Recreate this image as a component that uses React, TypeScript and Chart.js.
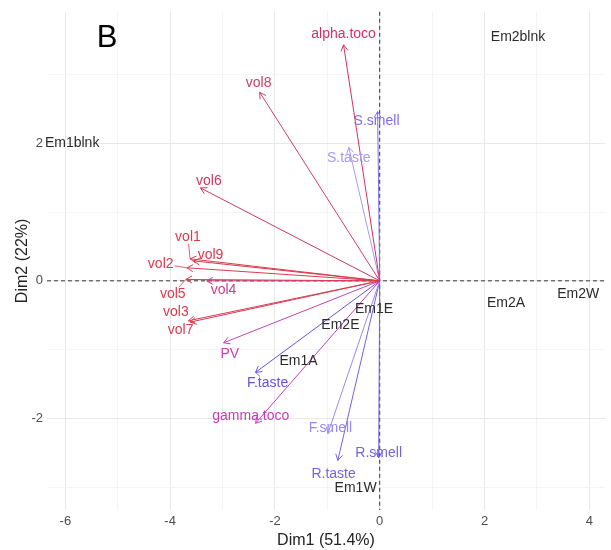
import React, { useEffect, useRef } from 'react';
import { Chart, registerables } from 'chart.js';

Chart.register(...registerables);

const FONT = "'Liberation Sans', Arial, Helvetica, sans-serif";

// Variables (arrows): coordinates on Dim1 / Dim2
const variables = ['alpha.toco', 'vol8', 'S.smell', 'S.taste', 'vol6', 'vol1', 'vol9', 'vol2', 'vol5', 'vol4', 'vol3', 'vol7', 'PV', 'F.taste', 'gamma.toco', 'F.smell', 'R.taste', 'R.smell'];
const varDim1 = [-0.69, -2.29, -0.04, -0.59, -3.42, -3.62, -3.55, -3.68, -3.70, -3.30, -3.65, -3.62, -2.98, -2.37, -2.37, -0.99, -0.80, -0.02];
const varDim2 = [3.43, 2.74, 2.46, 1.94, 1.35, 0.32, 0.29, 0.19, 0.02, 0.00, -0.58, -0.60, -0.90, -1.33, -2.07, -2.22, -2.61, -2.57];
const varColors = ['#d2306c', '#c94067', '#7f6ee6', '#a898f0', '#c93a5c', '#d93a4e', '#d8384e', '#de3a4c', '#dc3c50', '#c8408c', '#d83c50', '#d83c52', '#c444b4', '#6a50e0', '#c83cb8', '#9a88f0', '#7a5ee2', '#7262dc'];
// Repelled label anchors (Dim1 / Dim2)
const varLabelDim1 = [-0.69, -2.31, -0.06, -0.59, -3.26, -3.66, -3.23, -4.18, -3.95, -2.98, -3.89, -3.80, -2.86, -2.14, -2.46, -0.94, -0.88, -0.02];
const varLabelDim2 = [3.58, 2.88, 2.32, 1.78, 1.45, 0.64, 0.38, 0.25, -0.19, -0.14, -0.46, -0.71, -1.07, -1.49, -1.97, -2.14, -2.81, -2.51];

// Individuals (text labels)
const individuals = ['Em1blnk', 'Em2blnk', 'Em2W', 'Em2A', 'Em1E', 'Em2E', 'Em1A', 'Em1W'];
const indDim1 = [-5.87, 2.64, 3.79, 2.41, -0.11, -0.75, -1.55, -0.46];
const indDim2 = [2.00, 3.54, -0.20, -0.33, -0.41, -0.65, -1.16, -3.01];

// Axes
const xMajorTicks = [-6, -4, -2, 0, 2, 4];
const yMajorTicks = [-2, 0, 2];
const xTitle = 'Dim1 (51.4%)';
const yTitle = 'Dim2 (22%)';
const panelTag = 'B';

const biplotPlugin = {
  id: 'biplot',
  beforeDatasetsDraw(chart: any) {
    const { ctx, chartArea, scales } = chart;
    const x0 = scales.x.getPixelForValue(0);
    const y0 = scales.y.getPixelForValue(0);
    ctx.save();
    ctx.strokeStyle = '#333';
    ctx.lineWidth = 1;
    ctx.setLineDash([4, 3]);
    ctx.beginPath();
    ctx.moveTo(chartArea.left, y0);
    ctx.lineTo(chartArea.right, y0);
    ctx.moveTo(x0, chartArea.top);
    ctx.lineTo(x0, chartArea.bottom);
    ctx.stroke();
    ctx.restore();
  },
  afterDatasetsDraw(chart: any) {
    const { ctx, scales } = chart;
    const sx = scales.x;
    const sy = scales.y;
    const ox = sx.getPixelForValue(0);
    const oy = sy.getPixelForValue(0);
    ctx.save();
    ctx.font = `14px ${FONT}`;
    ctx.textAlign = 'center';
    ctx.textBaseline = 'middle';
    // arrowheads
    variables.forEach((v, i) => {
      const tx = sx.getPixelForValue(varDim1[i]);
      const ty = sy.getPixelForValue(varDim2[i]);
      const ang = Math.atan2(ty - oy, tx - ox);
      const len = 7;
      const spread = Math.PI / 6;
      ctx.strokeStyle = varColors[i];
      ctx.lineWidth = 1;
      ctx.beginPath();
      ctx.moveTo(tx - len * Math.cos(ang - spread), ty - len * Math.sin(ang - spread));
      ctx.lineTo(tx, ty);
      ctx.lineTo(tx - len * Math.cos(ang + spread), ty - len * Math.sin(ang + spread));
      ctx.stroke();
    });
    // variable labels + repel segments
    variables.forEach((v, i) => {
      const lx = sx.getPixelForValue(varLabelDim1[i]);
      const ly = sy.getPixelForValue(varLabelDim2[i]);
      const tx = sx.getPixelForValue(varDim1[i]);
      const ty = sy.getPixelForValue(varDim2[i]);
      const w = ctx.measureText(v).width;
      const dx = tx - lx;
      const dy = ty - ly;
      const d = Math.hypot(dx, dy);
      if (d > 16) {
        const hw = w / 2 + 1;
        const hh = 7;
        const t = Math.min(hw / Math.abs(dx || 1e-6), hh / Math.abs(dy || 1e-6));
        if (t < 1) {
          ctx.strokeStyle = varColors[i];
          ctx.lineWidth = 0.8;
          ctx.beginPath();
          ctx.moveTo(lx + dx * t, ly + dy * t);
          ctx.lineTo(tx, ty);
          ctx.stroke();
        }
      }
      ctx.fillStyle = varColors[i];
      ctx.fillText(v, lx, ly);
    });
    // individuals
    ctx.fillStyle = '#2b2b2b';
    individuals.forEach((n, i) => {
      ctx.fillText(n, sx.getPixelForValue(indDim1[i]), sy.getPixelForValue(indDim2[i]));
    });
    // panel tag
    ctx.fillStyle = '#000';
    ctx.font = `31px ${FONT}`;
    ctx.fillText(panelTag, 107, 38);
    ctx.restore();
  },
};

export default function App() {
  const ref = useRef<HTMLCanvasElement | null>(null);
  useEffect(() => {
    if (!ref.current) return;
    const datasets = variables.map((v, i) => ({
      label: v,
      data: [{ x: 0, y: 0 }, { x: varDim1[i], y: varDim2[i] }],
      showLine: true,
      borderColor: varColors[i],
      borderWidth: 1,
      pointRadius: 0,
      fill: false,
    }));
    const gridColor = (c: any) => {
      const v = c.tick ? c.tick.value : 1;
      return Math.abs(v % 2) === 0 ? '#e8e8e8' : '#f4f4f4';
    };
    const chart = new Chart(ref.current, {
      type: 'scatter',
      data: { datasets },
      options: {
        animation: false,
        responsive: false,
        devicePixelRatio: 1,
        layout: { padding: { top: 10, right: 6, left: 0, bottom: 0 } },
        plugins: { legend: { display: false }, tooltip: { enabled: false } },
        scales: {
          x: {
            type: 'linear',
            min: -6.35,
            max: 4.3,
            ticks: {
              stepSize: 1,
              includeBounds: false,
              autoSkip: false,
              maxRotation: 0,
              padding: 4,
              color: '#4d4d4d',
              font: { size: 13, family: FONT },
              callback: (val: any) => (xMajorTicks.includes(Number(val)) ? String(val) : ''),
            },
            grid: { color: gridColor, lineWidth: 1, drawTicks: false },
            border: { display: false },
            title: { display: true, text: xTitle, color: '#222', font: { size: 16, family: FONT }, padding: { top: 0, bottom: 0 } },
            afterFit: (s: any) => { s.height = 40; },
          },
          y: {
            type: 'linear',
            min: -3.33,
            max: 3.91,
            ticks: {
              stepSize: 1,
              includeBounds: false,
              autoSkip: false,
              padding: 4,
              color: '#4d4d4d',
              font: { size: 13, family: FONT },
              callback: (val: any) => (yMajorTicks.includes(Number(val)) ? String(val) : ''),
            },
            grid: { color: gridColor, lineWidth: 1, drawTicks: false },
            border: { display: false },
            title: { display: true, text: yTitle, color: '#222', font: { size: 16, family: FONT }, padding: { top: 13, bottom: 0 } },
            afterFit: (s: any) => { s.width = 47; },
          },
        },
      },
      plugins: [biplotPlugin],
    } as any);
    return () => chart.destroy();
  }, []);
  return (
    <div style={{ position: 'fixed', left: 0, top: 0, width: 611, height: 550, background: '#fff' }}>
      <canvas ref={ref} width={611} height={550} style={{ display: 'block' }} />
    </div>
  );
}
